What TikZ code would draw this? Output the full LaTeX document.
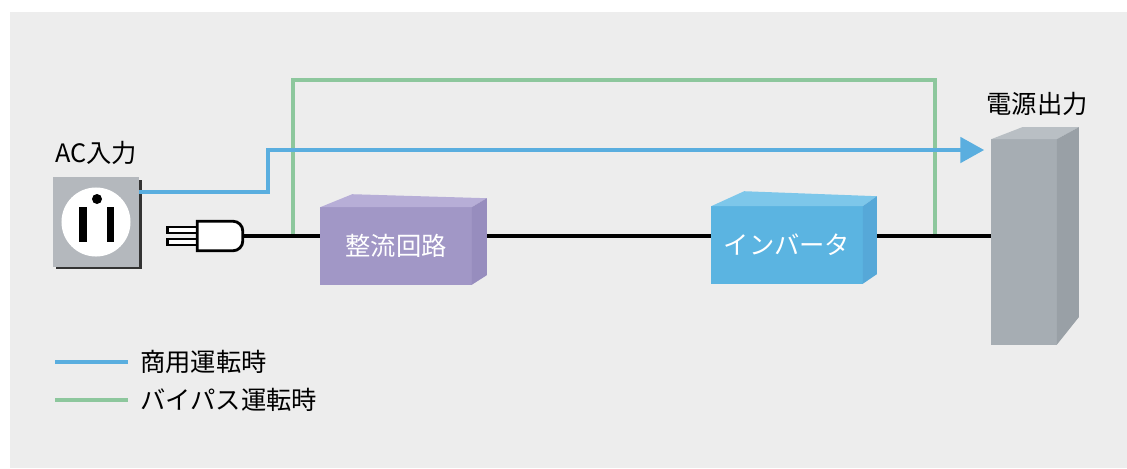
\documentclass[tikz,border=0pt]{standalone}
\usepackage{fontspec}
\setmainfont{Noto Sans CJK JP}
\usetikzlibrary{arrows.meta, shadows}
\definecolor{panelgray}{HTML}{EDEDED}
\definecolor{socketgray}{HTML}{B4B8BD}
\definecolor{upsblue}{HTML}{5AAEDF}
\definecolor{upsgreen}{HTML}{8DC79D}
\definecolor{rectfront}{HTML}{A197C6}
\definecolor{recttop}{HTML}{B7AED7}
\definecolor{rectside}{HTML}{978DBE}
\definecolor{invfront}{HTML}{5BB4E1}
\definecolor{invtop}{HTML}{7DC7EA}
\definecolor{invside}{HTML}{56A8D8}
\definecolor{outfront}{HTML}{A6ADB3}
\definecolor{outtop}{HTML}{B9BFC4}
\definecolor{outside}{HTML}{99A0A6}

\tikzset{
  mains/.style={draw=black, line width=2.6pt},
  commercial/.style={draw=upsblue, line width=3pt},
  bypass/.style={draw=upsgreen, line width=2.8pt},
  unitbox/.style={rectangle, minimum width=3.775cm, minimum height=1.925cm, inner sep=0pt, text=white, font=\fontsize{18}{20}\selectfont},
  labeltext/.style={inner sep=0pt, font=\fontsize{18}{20}\selectfont},
  plugline/.style={draw=black, line width=2pt, fill=white},
}

\begin{document}
\begin{tikzpicture}[x=0.025cm, y=-0.025cm]
\useasboundingbox (0,0) rectangle (1127,468);
\fill[panelgray] (10,12) rectangle (1127,468);

% AC inlet
\node[rectangle, fill=socketgray, minimum width=2.15cm, minimum height=2.225cm, drop shadow={shadow xshift=2pt, shadow yshift=-2pt, fill=black!80, opacity=1}] (socket) at (96,222) {};
\node[circle, fill=white, minimum size=1.725cm, inner sep=0pt] (hole) at (socket) {};
\fill[black] ([shift={(1,-23)}]hole.center) circle (5);
\fill[black] ([shift={(-17,-15)}]hole.center) rectangle ++(8,35);
\fill[black] ([shift={(11,-15)}]hole.center) rectangle ++(7,35);
\node[labeltext] (aclabel) at (96,153) {AC入力};

% plug
\node[rectangle, minimum width=1.125cm, minimum height=0.725cm, inner sep=0pt] (plug) at (220,236) {};
\draw[plugline] ([shift={(-30,-9)}]plug.west) rectangle ++(30,6);
\draw[plugline] ([shift={(-30,3)}]plug.west) rectangle ++(30,6);
\draw[plugline] (plug.south west) -- (plug.north west) [rounded corners=7] -- (plug.north east) -- (plug.south east) [sharp corners] -- cycle;

% output column
\node[rectangle, fill=outfront, minimum width=1.625cm, minimum height=5.125cm, inner sep=0pt] (out) at (1024,242) {};
\fill[outtop] (out.north west) -- ++(31,-12) -- ([shift={(22,-12)}]out.north east) -- (out.north east) -- cycle;
\fill[outside] (out.north east) -- ++(22,-12) -- ++(0,190) -- (out.south east) -- cycle;
\node[labeltext] (outlabel) at (1037,104) {電源出力};

% taps and bends
\coordinate (tapin) at (293,237);
\coordinate (tapout) at (935,237);
\coordinate (blueturn) at (268,150);

% bypass route
\draw[bypass] (tapin) -- (tapin |- 0,80) -| (tapout);

% commercial route
\draw[commercial, -{Triangle[length=17pt, width=18pt]}, shorten >=5pt] (socket.east |- 0,192) -| (blueturn) -- (blueturn -| out.west);

% main line
\draw[mains] (plug.east) -- (out.west |- plug.east);

% rectifier
\node[unitbox, fill=rectfront] (rect) at (396,246) {整流回路};
\fill[recttop] (rect.north west) -- ++(32,-13) -- ([shift={(15,-9)}]rect.north east) -- (rect.north east) -- cycle;
\fill[rectside] (rect.north east) -- ++(15,-9) -- ++(0,77) -- (rect.south east) -- cycle;

% inverter
\node[unitbox, fill=invfront] (inv) at (787,245) {インバータ};
\fill[invtop] (inv.north west) -- ++(33,-15) -- ([shift={(14,-10)}]inv.north east) -- (inv.north east) -- cycle;
\fill[invside] (inv.north east) -- ++(14,-10) -- ++(0,78) -- (inv.south east) -- cycle;

% legend
\node[labeltext, anchor=west] (keycom) at (140,362) {商用運転時};
\node[labeltext, anchor=west] (keybyp) at (140,400) {バイパス運転時};
\draw[commercial] ([shift={(-85,0)}]keycom.west) -- ([shift={(-12,0)}]keycom.west);
\draw[bypass] ([shift={(-85,0)}]keybyp.west) -- ([shift={(-12,0)}]keybyp.west);
\end{tikzpicture}
\end{document}
